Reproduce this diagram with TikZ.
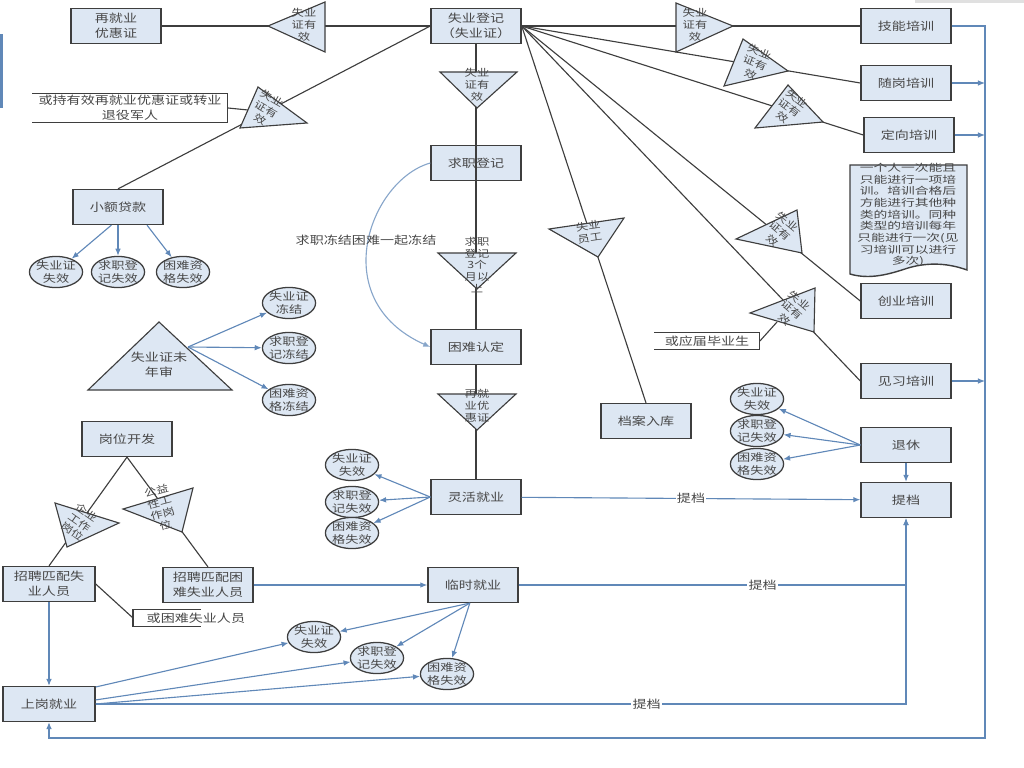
\documentclass[tikz,border=0pt]{standalone}
\usepackage{fontspec}
\setmainfont{Noto Sans CJK SC}[FakeStretch=1.25]
\newfontfamily\widefont{Noto Sans CJK SC}[FakeStretch=1.4]
\usetikzlibrary{shapes.geometric, arrows.meta, calc}
\definecolor{boxfill}{RGB}{221, 231, 243}
\definecolor{boxline}{RGB}{62, 62, 62}
\definecolor{flowblue}{RGB}{96, 136, 184}
\definecolor{inktext}{RGB}{72, 72, 72}

\begin{document}
\begin{tikzpicture}[
    x=0.025cm, y=-0.025cm,
    font=\fontsize{8}{10.5}\selectfont,
    stepbox/.style={
        rectangle, draw=boxline, fill=boxfill,
        line width=1pt, text=inktext, align=center,
        minimum width=2.25cm, minimum height=0.87cm, inner sep=1pt,
    },
    lapse/.style={
        ellipse, draw=boxline, fill=boxfill,
        line width=0.9pt, text=inktext, align=center,
        minimum width=1.33cm, minimum height=0.78cm, inner sep=-1pt,
        font=\fontsize{7.5}{9}\selectfont,
    },
    gate/.style={draw=boxline, fill=boxfill, line width=0.8pt},
    gatetext/.style={
        align=center, text=inktext, inner sep=0pt,
        font=\fontsize{7}{8.5}\selectfont,
    },
    remark/.style={align=center, text=inktext, inner sep=1pt},
    link/.style={draw=boxline, line width=0.8pt},
    flow/.style={
        -{Latex[length=5pt, width=4pt]},
        draw=flowblue, line width=0.8pt,
    },
]
\useasboundingbox (0, 0) rectangle (1024, 768);

% slide decorations
\fill[flowblue] (0, 34) rectangle (3, 108);
\fill[black!12] (915, 0) rectangle (1024, 3);

% =============== Boxes ===============
\node[stepbox] (rejob)   at (116, 26)  {再就业\\优惠证};
\node[stepbox] (reg)     at (476, 26)  {失业登记\\（失业证）};
\node[stepbox] (skill)   at (906, 26)  {技能培训};
\node[stepbox] (post)    at (906, 83)  {随岗培训};
\node[stepbox] (orient)  at (909, 135) {定向培训};
\node[stepbox] (startup) at (906, 301) {创业培训};
\node[stepbox] (intern)  at (906, 381) {见习培训};
\node[stepbox] (retire)  at (906, 445) {退休};
\node[stepbox] (archive) at (906, 500) {提档};
\node[stepbox] (job)     at (476, 163) {求职登记};
\node[stepbox] (diff)    at (476, 347) {困难认定};
\node[stepbox] (flex)    at (476, 497) {灵活就业};
\node[stepbox] (store)   at (646, 421) {档案入库};
\node[stepbox] (loan)    at (118, 207) {小额贷款};
\node[stepbox] (devel)   at (127, 439) {岗位开发};
\node[stepbox, minimum width=2.3cm] (hireA) at (49, 584)  {招聘匹配失\\业人员};
\node[stepbox] (hireB)   at (208, 585) {招聘匹配困\\难失业人员};
\node[stepbox] (temp)    at (473, 585) {临时就业};
\node[stepbox, minimum width=2.3cm] (onjob) at (49, 704)  {上岗就业};

% note with wavy bottom
\draw[boxline, fill=boxfill, line width=1pt]
    (850, 165) -- (967, 165) -- (967, 270)
    .. controls (945, 262) and (925, 263) .. (908, 268)
    .. controls (890, 274) and (870, 280) .. (850, 274) -- cycle;
\node[remark, font=\widefont\fontsize{7}{8.3}\selectfont] (note) at (908, 215)
    {一个人一次能且\\只能进行一项培\\训。培训合格后\\方能进行其他种\\类的培训。同种\\类型的培训每年\\只能进行一次(见\\习培训可以进行\\多次)};

% =============== Ellipses ===============
\node[lapse] (loanA) at (56, 272)  {失业证\\失效};
\node[lapse] (loanB) at (118, 272) {求职登\\记失效};
\node[lapse] (loanC) at (183, 272) {困难资\\格失效};
\node[lapse] (frzA)  at (289, 303) {失业证\\冻结};
\node[lapse] (frzB)  at (289, 348) {求职登\\记冻结};
\node[lapse] (frzC)  at (289, 400) {困难资\\格冻结};
\node[lapse] (flexA) at (352, 465) {失业证\\失效};
\node[lapse] (flexB) at (352, 502) {求职登\\记失效};
\node[lapse] (flexC) at (352, 533) {困难资\\格失效};
\node[lapse] (retA)  at (757, 399) {失业证\\失效};
\node[lapse] (retB)  at (757, 431) {求职登\\记失效};
\node[lapse] (retC)  at (757, 464) {困难资\\格失效};
\node[lapse] (tmpA)  at (314, 637) {失业证\\失效};
\node[lapse] (tmpB)  at (377, 658) {求职登\\记失效};
\node[lapse] (tmpC)  at (447, 674) {困难资\\格失效};

% =============== Side remarks ===============
\node[remark, minimum width=4.88cm, minimum height=0.7cm] (aside1) at (130, 108)
    {或持有效再就业优惠证或转业\\退役军人};
\draw[link] (aside1.north west) -- (aside1.north east)
    -- (aside1.south east) -- (aside1.south west);
\node[remark, minimum width=2.63cm, minimum height=0.4cm] (aside2) at (707, 341)
    {或应届毕业生};
\draw[link] (aside2.north west) -- (aside2.north east)
    -- (aside2.south east) -- (aside2.south west);
\node[remark, anchor=west, minimum height=0.42cm] (aside3) at (145, 618)
    {或困难失业人员};
\draw[link] ([xshift=1.4cm]aside3.north west) -- ([xshift=-0.3cm]aside3.north west)
    -- ([xshift=-0.3cm]aside3.south west) -- ([xshift=1.4cm]aside3.south west);

% =============== Black links ===============
\coordinate (g2in)  at (248, 110);
\coordinate (g11in) at (777, 322);
\draw[link] (rejob) -- (reg);
\draw[link] (loan.north) -- (reg.west);
\draw[link] (reg) -- (diff);
\draw[link] (diff) -- (flex);
\draw[link] (reg.east) -- (skill.west);
\draw[link] (reg.east) -- (post.west);
\draw[link] (reg.east) -- (orient.west);
\draw[link] (reg.east) -- (startup.west);
\draw[link] (reg.east) -- (intern.west);
\draw[link] (reg.east) -- (store.north);
\draw[link] (devel.south) -- (hireA.north);
\draw[link] (devel.south) -- (hireB.north);
\draw[link] (hireA.east) -- ([xshift=-0.3cm]aside3.west);
\draw[link] (aside1.east) -- (g2in);
\draw[link] (aside2.east) -- (g11in);

% =============== Triangles ===============
\draw[gate] (268, 26) -- (325, 2) -- (325, 52) -- cycle;
\node[gatetext] (g1) at (304, 25) {失业\\证有\\效};
\draw[gate] (258, 87) -- (307, 123) -- (240, 128) -- cycle;
\node[gatetext, rotate=-30] (g2) at (266, 109) {失业\\证有\\效};
\draw[gate] (440, 72) -- (517, 72) -- (477, 108) -- cycle;
\node[gatetext] (g3) at (477, 85) {失业\\证有\\效};
\draw[gate] (438, 253) -- (516, 253) -- (477, 289) -- cycle;
\node[gatetext] (g4) at (477, 265) {求职\\登记\\3个\\月以\\上};
\draw[gate] (438, 394) -- (516, 394) -- (477, 430) -- cycle;
\node[gatetext] (g5) at (477, 406) {再就\\业优\\惠证};
\draw[gate] (549, 229) -- (624, 218) -- (598, 257) -- cycle;
\node[gatetext, rotate=8] (g6) at (589, 232) {失业\\员工};
\draw[gate] (676, 3) -- (733, 26) -- (676, 52) -- cycle;
\node[gatetext] (g7) at (695, 25) {失业\\证有\\效};
\draw[gate] (743, 39) -- (788, 71) -- (724, 86) -- cycle;
\node[gatetext, rotate=-22] (g8) at (755, 63) {失业\\证有\\效};
\draw[gate] (788, 85) -- (823, 122) -- (755, 128) -- cycle;
\node[gatetext, rotate=-37] (g9) at (790, 108) {失业\\证有\\效};
\draw[gate] (736, 239) -- (797, 210) -- (802, 253) -- cycle;
\node[gatetext, rotate=-40] (g10) at (780, 231) {失业\\证有\\效};
\draw[gate] (750, 313) -- (815, 288) -- (814, 332) -- cycle;
\node[gatetext, rotate=-40] (g11) at (792, 310) {失业\\证有\\效};
\draw[gate] (55, 503) -- (119, 523) -- (67, 547) -- cycle;
\node[gatetext, rotate=-35] (g12) at (80, 522) {企业\\工作\\岗位};
\draw[gate] (123, 509) -- (193, 488) -- (182, 532) -- cycle;
\node[gatetext, rotate=15] (g13) at (161, 508) {公益\\性工\\作岗\\位};

% year check
\draw[gate] (159, 322) -- (232, 390) -- (88, 390) -- cycle;
\node[remark] (audit) at (159, 365) {失业证未\\年审};
\coordinate (yr) at (188, 347);

% =============== Blue flows ===============
\draw[flow] (loan.-110) -- (loanA);
\draw[flow] (loan.south) -- (loanB);
\draw[flow] (loan.-32) -- (loanC);
\draw[flow] (yr) -- (frzA);
\draw[flow] (yr) -- (frzB);
\draw[flow] (yr) -- (frzC);
\draw[flow, draw=flowblue!75] (job.west)
    .. controls (370, 180) and (325, 300) .. (diff.west);
\node[remark] (freeze) at (366, 240) {求职冻结困难一起冻结};
\draw[flow] (flex.west) -- (flexA);
\draw[flow] (flex.west) -- (flexB);
\draw[flow] (flex.west) -- (flexC);
\draw[flow] (flex) -- node[remark, fill=white, pos=0.5] (lab1) {提档} (archive);
\draw[flow] (retire.west) -- (retA);
\draw[flow] (retire.west) -- (retB);
\draw[flow] (retire.west) -- (retC);
\draw[flow] (retire) -- (archive);
\draw[flow] (hireB) -- (temp);
\draw[flow] (temp.east) -- node[remark, fill=white, pos=0.63] (lab2) {提档}
    (archive.south |- temp.east) -- (archive.south);
\draw[flow] (onjob.east) -- node[remark, fill=white, pos=0.68] (lab3) {提档}
    (archive.south |- onjob.east) -- (archive.south);
\draw[flow] (hireA) -- (onjob);
\draw[flow] (onjob.20) -- (tmpA);
\draw[flow] (onjob.5) -- (tmpB);
\draw[flow] (onjob.east) -- (tmpC);
\draw[flow] (temp.-100) -- (tmpA);
\draw[flow] (temp.-100) -- (tmpB);
\draw[flow] (temp.-100) -- (tmpC);

% training rail on the right
\coordinate (rail) at (985, 26);
\coordinate (railfoot) at (985, 738);
\draw[flow] (skill.east) -- (rail) -- (railfoot)
    -- (onjob.south |- railfoot) -- (onjob.south);
\draw[flow] (post.east) -- (post.east -| rail);
\draw[flow] (orient.east) -- (orient.east -| rail);
\draw[flow] (intern.east) -- (intern.east -| rail);

\end{tikzpicture}
\end{document}
